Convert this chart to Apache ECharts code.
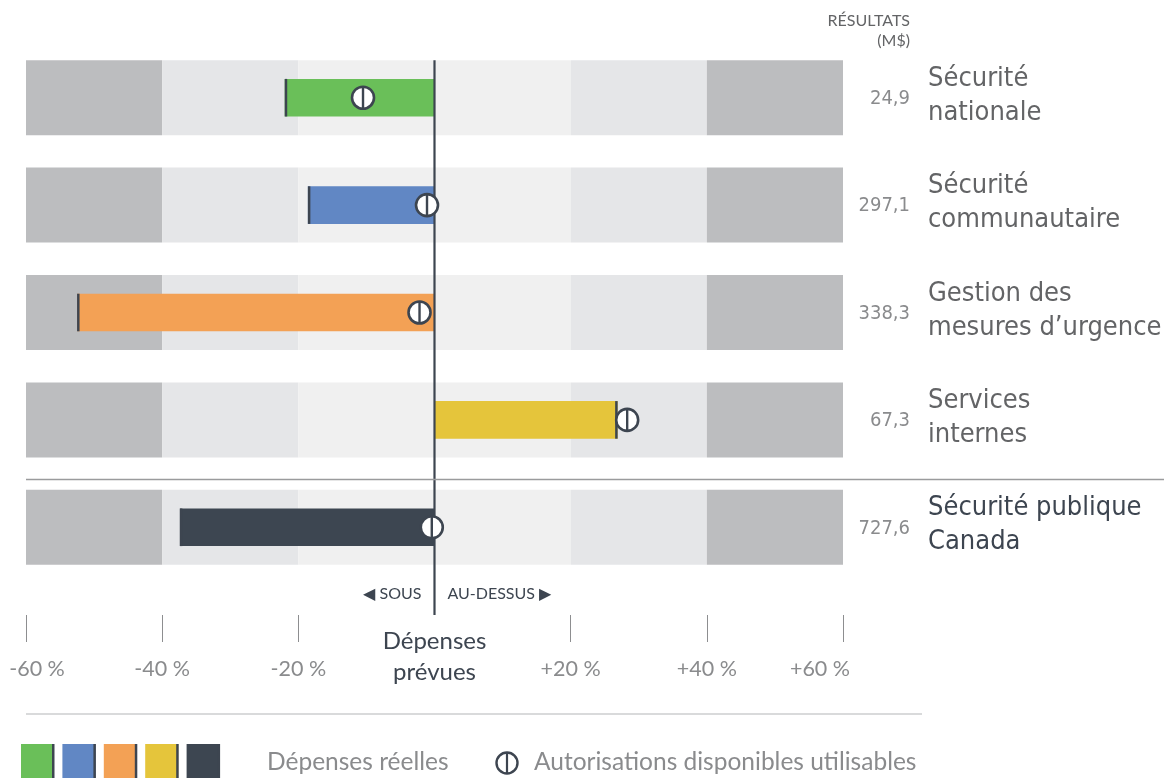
<!DOCTYPE html>
<html>
<head>
<meta charset="utf-8">
<script src="https://cdn.jsdelivr.net/npm/echarts@6/dist/echarts.min.js"></script>
<style>
  html, body { margin: 0; padding: 0; background: #fff; }
  #chart { width: 1164px; height: 778px; }
</style>
</head>
<body>
<div id="chart"></div>
<script>
// programmes (top to bottom)
const categories = ['Sécurité\nnationale', 'Sécurité\ncommunautaire', 'Gestion des\nmesures d’urgence', 'Services\ninternes', 'Sécurité publique\nCanada'];
const results = ['24,9', '297,1', '338,3', '67,3', '727,6'];
// actual spending vs planned spending, in %
const actualPct = [-22.0, -18.6, -52.5, 26.9, -37.4];
// available authorities vs planned spending, in %
const authorityPct = [-10.5, -1.1, -2.2, 28.3, -0.4];
const barColors = ['#6abf59', '#6187c4', '#f3a155', '#e5c53b', '#3d4651'];
const tickValues = [-60, -40, -20, 20, 40, 60];
const bandEdges = [-60, -40, -20, 20, 40, 60];
const bandColors = ['#bcbdbf', '#e5e6e8', '#f0f0f0', '#e5e6e8', '#bcbdbf'];

const DARK = '#3d4550';
const GREY = '#8a8b8d';
const NAME = '#636466';
const condensed = '"DejaVu Sans Condensed", "DejaVu Sans", sans-serif';
const avenir = 'Lato, "Noto Sans", sans-serif';

const chart = echarts.init(document.getElementById('chart'));

// background bands: [from, to, row, colour index]
const bandData = [];
categories.forEach((c, i) => {
  for (let k = 0; k < bandEdges.length - 1; k++) {
    bandData.push([bandEdges[k], bandEdges[k + 1], i, k]);
  }
});

const barData = actualPct.map((v, i) => [v, i]);
const markerData = authorityPct.map((v, i) => [v, i]);
const labelData = categories.map((c, i) => [60, i]);

const tickText = { color: GREY, fontSize: 21.5, fontFamily: avenir };

const option = {
  animation: false,
  grid: { left: 26, right: 321, top: 44, height: 537, outerBoundsMode: 'none', containLabel: false },
  xAxis: {
    type: 'value',
    min: -60,
    max: 60,
    interval: 20,
    offset: 34,
    axisLine: { show: false },
    splitLine: { show: false },
    axisTick: {
      show: true,
      length: 27,
      customValues: tickValues,
      lineStyle: { color: '#8d8e90', width: 1 }
    },
    axisLabel: {
      customValues: tickValues,
      margin: 43,
      color: GREY,
      fontSize: 21.5,
      fontFamily: avenir,
      formatter: v => {
        const t = (v > 0 ? '+' : '') + v + ' %';
        if (v === -60) return '{min|' + t + '}';
        if (v === 60) return '{max|' + t + '}';
        return t;
      },
      rich: {
        // end labels sit a little inside the scale, as in the original
        min: Object.assign({ padding: [0, 0, 0, 22] }, tickText),
        max: Object.assign({ padding: [0, 46, 0, 0] }, tickText)
      }
    }
  },
  yAxis: {
    type: 'category',
    inverse: true,
    data: categories,
    show: false
  },
  series: [
    {
      // background bands
      type: 'custom',
      data: bandData,
      encode: { x: [0, 1], y: 2 },
      silent: true,
      renderItem: (params, api) => {
        const a = api.coord([api.value(0), api.value(2)]);
        const b = api.coord([api.value(1), api.value(2)]);
        const h = api.size([0, 1])[1] * 0.698;
        return {
          type: 'rect',
          shape: { x: a[0], y: a[1] - h / 2, width: b[0] - a[0], height: h },
          style: { fill: bandColors[api.value(3)] }
        };
      }
    },
    {
      // actual spending bars with end cap
      type: 'custom',
      data: barData,
      encode: { x: 0, y: 1 },
      z: 3,
      renderItem: (params, api) => {
        const i = api.value(1);
        const zero = api.coord([0, i]);
        const end = api.coord([api.value(0), i]);
        const h = api.size([0, 1])[1] * 0.35;
        const x0 = Math.min(zero[0], end[0]);
        const w = Math.abs(end[0] - zero[0]);
        const capX = end[0] < zero[0] ? end[0] : end[0] - 2.5;
        return {
          type: 'group',
          children: [
            { type: 'rect', shape: { x: x0, y: zero[1] - h / 2, width: w, height: h }, style: { fill: barColors[i] } },
            { type: 'rect', shape: { x: capX, y: zero[1] - h / 2, width: 2.5, height: h }, style: { fill: DARK } }
          ]
        };
      }
    },
    {
      // centre line, separator and axis notes
      type: 'custom',
      data: [[0, 0]],
      encode: { x: 0, y: 1 },
      z: 4,
      silent: true,
      renderItem: (params, api) => {
        const step = api.size([0, 1])[1];
        const top = api.coord([0, 0]);
        const last = api.coord([0, categories.length - 1]);
        const lineTop = top[1] - step * 0.349;
        const lineBottom = last[1] + step * 0.5 + 34;
        const sepY = api.coord([0, 3])[1] + step * 0.555;
        const left = api.coord([-60, 0])[0];
        return {
          type: 'group',
          children: [
            { type: 'line', shape: { x1: top[0], y1: lineTop, x2: top[0], y2: lineBottom }, style: { stroke: DARK, lineWidth: 2.2 } },
            { type: 'line', shape: { x1: left, y1: sepY, x2: 1164, y2: sepY }, style: { stroke: '#9a9b9d', lineWidth: 1.5 } },
            { type: 'text', x: top[0] - 13, y: lineBottom - 21, style: { text: '◀ SOUS', fill: DARK, font: '16px ' + avenir, align: 'right', verticalAlign: 'middle' } },
            { type: 'text', x: top[0] + 13, y: lineBottom - 21, style: { text: 'AU-DESSUS ▶', fill: DARK, font: '16px ' + avenir, align: 'left', verticalAlign: 'middle' } },
            { type: 'text', x: top[0], y: lineBottom + 42, style: { text: 'Dépenses\nprévues', fill: DARK, font: '24px ' + avenir, lineHeight: 31, align: 'center', verticalAlign: 'middle' } }
          ]
        };
      }
    },
    {
      // available authorities markers
      type: 'custom',
      data: markerData,
      encode: { x: 0, y: 1 },
      z: 5,
      renderItem: (params, api) => {
        const p = api.coord([api.value(0), api.value(1)]);
        const r = 11;
        return {
          type: 'group',
          children: [
            { type: 'circle', shape: { cx: p[0], cy: p[1], r: r }, style: { fill: '#fff', stroke: DARK, lineWidth: 2.6 } },
            { type: 'line', shape: { x1: p[0], y1: p[1] - r, x2: p[0], y2: p[1] + r }, style: { stroke: DARK, lineWidth: 2.4 } }
          ]
        };
      }
    },
    {
      // right side labels: result and programme name
      type: 'custom',
      data: labelData,
      encode: { x: 0, y: 1 },
      silent: true,
      renderItem: (params, api) => {
        const i = api.value(1);
        const p = api.coord([60, i]);
        const total = i === categories.length - 1;
        return {
          type: 'group',
          children: [
            { type: 'text', x: p[0] + 67, y: p[1] + 1, style: { text: results[i], fill: GREY, font: '20px ' + condensed, align: 'right', verticalAlign: 'middle' } },
            { type: 'text', x: p[0] + 85, y: p[1] - 2, style: { text: categories[i], fill: total ? DARK : NAME, font: '27px ' + condensed, lineHeight: 34, align: 'left', verticalAlign: 'middle' } }
          ]
        };
      }
    }
  ],
  graphic: [
    { type: 'text', x: 910, y: 21, style: { text: 'RÉSULTATS', fill: NAME, font: '16px ' + avenir, align: 'right', verticalAlign: 'middle' } },
    { type: 'text', x: 910, y: 41, style: { text: '(M$)', fill: NAME, font: '16px ' + avenir, align: 'right', verticalAlign: 'middle' } },
    { type: 'line', shape: { x1: 26, y1: 714, x2: 922, y2: 714 }, style: { stroke: '#b4b5b7', lineWidth: 1.2 } },
    ...barColors.map((c, k) => ({
      type: 'group',
      x: 21 + k * 41.4,
      y: 744,
      children: [
        { type: 'rect', shape: { x: 0, y: 0, width: 33, height: 40 }, style: { fill: c } },
        { type: 'rect', shape: { x: 31, y: 0, width: 2.5, height: 40 }, style: { fill: DARK } }
      ]
    })),
    { type: 'text', x: 267, y: 762, style: { text: 'Dépenses réelles', fill: GREY, font: '24.5px ' + avenir, verticalAlign: 'middle' } },
    { type: 'circle', shape: { cx: 507, cy: 763, r: 10.5 }, style: { fill: '#fff', stroke: DARK, lineWidth: 2.4 } },
    { type: 'line', shape: { x1: 507, y1: 752.5, x2: 507, y2: 773.5 }, style: { stroke: DARK, lineWidth: 2.2 } },
    { type: 'text', x: 534, y: 762, style: { text: 'Autorisations disponibles utilisables', fill: GREY, font: '24.5px ' + avenir, verticalAlign: 'middle' } }
  ]
};

chart.setOption(option);
window.addEventListener('resize', () => chart.resize());
</script>
</body>
</html>
